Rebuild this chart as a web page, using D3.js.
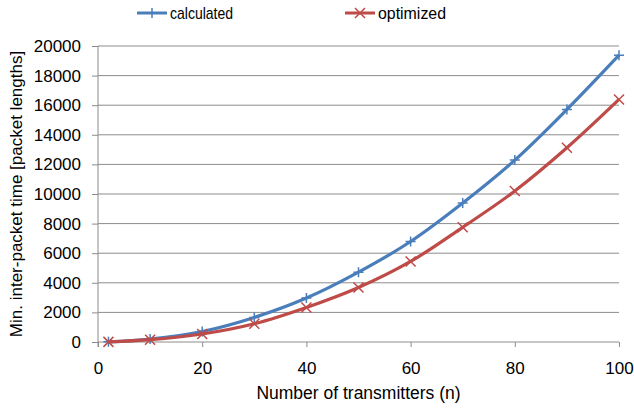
<!DOCTYPE html>
<html>
<head>
<meta charset="utf-8">
<script src="https://cdn.jsdelivr.net/npm/d3@7"></script>
<style>
  body { margin: 0; background: #fff; }
  text { font-family: "Liberation Sans", Arial, sans-serif; fill: #000; }
</style>
</head>
<body>
<div id="chart"></div>
<script>
// values
const nValues = [2, 10, 20, 30, 40, 50, 60, 70, 80, 90, 100];
const calculated = [10, 200, 710, 1660, 2970, 4720, 6790, 9390, 12290, 15710, 19380];
const optimized = [10, 155, 540, 1230, 2330, 3680, 5440, 7750, 10200, 13120, 16390];
const xTicks = [0, 20, 40, 60, 80, 100];
const yTicks = [0, 2000, 4000, 6000, 8000, 10000, 12000, 14000, 16000, 18000, 20000];

const W = 634, H = 412;
const margin = { top: 46, right: 15, bottom: 70, left: 98 };
const width = W - margin.left - margin.right;
const height = H - margin.top - margin.bottom;

const blue = '#4A7EBB', red = '#BE4B48';

const svg = d3.select('#chart')
  .append('svg')
  .attr('width', W)
  .attr('height', H);

const g = svg.append('g')
  .attr('transform', `translate(${margin.left},${margin.top})`);

const x = d3.scaleLinear().domain([0, 100]).range([0, width]);
const y = d3.scaleLinear().domain([0, 20000]).range([height, 0]);

// horizontal gridlines
g.selectAll('.grid')
  .data(yTicks.slice(1))
  .enter().append('line')
  .attr('x1', 0).attr('x2', width)
  .attr('y1', d => y(d)).attr('y2', d => y(d))
  .attr('stroke', '#8c8c8c')
  .attr('stroke-width', 1);

// y axis
const yAxis = g.append('g')
  .call(d3.axisLeft(y).tickValues(yTicks).tickSize(6).tickPadding(11).tickFormat(d3.format('d')));
yAxis.select('.domain').attr('stroke', '#8c8c8c').attr('d', `M0,${y(20000)}V${height + 5}`);
yAxis.selectAll('.tick line').attr('stroke', '#8c8c8c');
yAxis.selectAll('.tick text').style('font-size', '17px');

// x axis
const xAxis = g.append('g')
  .attr('transform', `translate(0,${height})`)
  .call(d3.axisBottom(x).tickValues(xTicks).tickSize(5).tickPadding(15));
xAxis.select('.domain').attr('stroke', '#8c8c8c').attr('d', `M0,0H${width}`);
xAxis.selectAll('.tick line').attr('stroke', '#8c8c8c');
xAxis.selectAll('.tick text').style('font-size', '17px');

// axis titles
g.append('text')
  .attr('x', width / 2)
  .attr('y', height + 57)
  .attr('text-anchor', 'middle')
  .style('font-size', '17.5px')
  .text('Number of transmitters (n)');

g.append('text')
  .attr('transform', 'rotate(-90)')
  .attr('x', -height / 2)
  .attr('y', -margin.left + 22)
  .attr('text-anchor', 'middle')
  .style('font-size', '17px')
  .text('Min. inter-packet time [packet lengths]');

const series = [
  { name: 'calculated', values: calculated, color: blue, marker: 'plus', w: 63 },
  { name: 'optimized', values: optimized, color: red, marker: 'cross', w: 68 }
];

const line = d3.line()
  .x(d => x(d[0]))
  .y(d => y(d[1]))
  .curve(d3.curveCatmullRom.alpha(0.5));

function marker(sel, type, color) {
  const s = 5;
  const p = type === 'plus'
    ? `M${-s},0H${s}M0,${-s}V${s}`
    : `M${-s},${-s}L${s},${s}M${-s},${s}L${s},${-s}`;
  sel.append('path').attr('d', p).attr('stroke', color).attr('stroke-width', 1.5).attr('fill', 'none');
}

series.forEach(s => {
  const pts = nValues.map((n, i) => [n, s.values[i]]);
  g.append('path')
    .datum(pts)
    .attr('d', line)
    .attr('fill', 'none')
    .attr('stroke', s.color)
    .attr('stroke-width', 3.2);
  g.selectAll(null)
    .data(pts)
    .enter().append('g')
    .attr('transform', d => `translate(${x(d[0])},${y(d[1])})`)
    .each(function () { marker(d3.select(this), s.marker, s.color); });
});

// legend
const legendX = [137, 345];
series.forEach((s, i) => {
  const lg = svg.append('g').attr('transform', `translate(${legendX[i]},13)`);
  lg.append('line').attr('x1', 0).attr('x2', 30).attr('y1', 0).attr('y2', 0)
    .attr('stroke', s.color).attr('stroke-width', 3);
  const m = lg.append('g').attr('transform', 'translate(15,0)');
  marker(m, s.marker, s.color);
  lg.append('text').attr('x', 33).attr('y', 6)
    .attr('textLength', s.w).attr('lengthAdjust', 'spacingAndGlyphs')
    .style('font-size', '17px').text(s.name);
});
</script>
</body>
</html>
